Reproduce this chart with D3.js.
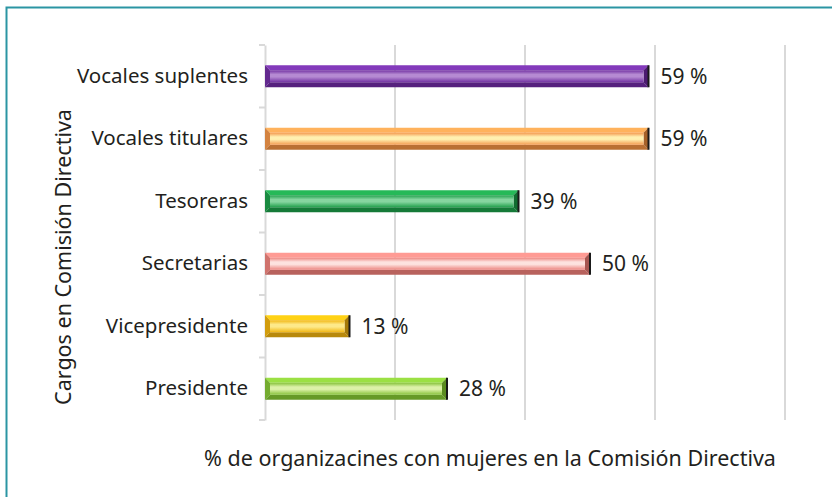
<!DOCTYPE html>
<html>
<head>
<meta charset="utf-8">
<script src="https://cdn.jsdelivr.net/npm/d3@7"></script>
<style>
  body { margin: 0; background: #fff; }
  svg { display: block; font-family: "Noto Sans", "Open Sans", sans-serif; }
</style>
</head>
<body>
<div id="chart"></div>
<script>
const categories = ["Vocales suplentes", "Vocales titulares", "Tesoreras", "Secretarias", "Vicepresidente", "Presidente"];
const values = [59, 59, 39, 50, 13, 28];
const gridTicks = [0, 20, 40, 60, 80];

// base, highlight, dark
const palette = [
  ["#7232a2", "#b58ad2", "#3f1361"],
  ["#f49a50", "#fff0b0", "#8a4e1c"],
  ["#21a04c", "#86d6a0", "#0b5a27"],
  ["#ec8680", "#fde3df", "#8e4540"],
  ["#f1b612", "#fde98a", "#8a6405"],
  ["#86c23a", "#dcf1a8", "#4c7a17"]
];

const width = 832, height = 497;
const svg = d3.select("#chart").append("svg")
  .attr("width", width)
  .attr("height", height);

// frame
svg.append("path")
  .attr("d", `M6.5,${height} V7.5 H${width}`)
  .attr("fill", "none")
  .attr("stroke", "#2b95a3")
  .attr("stroke-width", 2);

const x = d3.scaleLinear().domain([0, 80]).range([265, 785]);
const y = d3.scaleBand().domain(categories).range([45, 420]);
const barH = 22;

// gridlines
svg.append("g").selectAll("line")
  .data(gridTicks.slice(1))
  .join("line")
    .attr("x1", d => x(d)).attr("x2", d => x(d))
    .attr("y1", 45).attr("y2", 420)
    .attr("stroke", "#d9d9d9")
    .attr("stroke-width", 2);

// category axis
const yAxis = svg.append("g")
  .attr("transform", `translate(${x(0)},0)`)
  .call(d3.axisLeft(y).tickSize(0).tickPadding(17));
yAxis.select(".domain").attr("stroke", "#d9d9d9").attr("stroke-width", 2);
yAxis.selectAll("text")
  .attr("font-size", 20.5)
  .attr("fill", "#231f20")
  .attr("font-family", "'Noto Sans', sans-serif");

const bounds = categories.map(c => y(c)).concat([420]);
svg.append("g").selectAll("line")
  .data(bounds)
  .join("line")
    .attr("x1", x(0) - 6).attr("x2", x(0))
    .attr("y1", d => d).attr("y2", d => d)
    .attr("stroke", "#d9d9d9")
    .attr("stroke-width", 2);

// highlight gradients per bar
const defs = svg.append("defs");
palette.forEach((p, i) => {
  const g = defs.append("linearGradient")
    .attr("id", "g" + i)
    .attr("x1", 0).attr("y1", 0).attr("x2", 0).attr("y2", 1);
  g.append("stop").attr("offset", "0%").attr("stop-color", p[0]);
  g.append("stop").attr("offset", "35%").attr("stop-color", p[1]);
  g.append("stop").attr("offset", "55%").attr("stop-color", p[1]);
  g.append("stop").attr("offset", "100%").attr("stop-color", p[0]);
});

const bev = 5;
const bars = svg.append("g").selectAll("g")
  .data(categories.map((c, i) => ({ c, v: values[i], p: palette[i], i })))
  .join("g")
    .attr("transform", d => `translate(0,${y(d.c) + (y.bandwidth() - barH) / 2})`);

bars.each(function(d) {
  const g = d3.select(this);
  const x0 = x(0), x1 = x(d.v), h = barH;
  const shade = t => d3.interpolateRgb(d.p[0], d.p[2])(t);
  g.append("polygon")
    .attr("points", `${x0},0 ${x1},0 ${x1 - bev},${bev} ${x0 + bev},${bev}`)
    .attr("fill", d3.color(d.p[0]).brighter(0.4));
  g.append("polygon")
    .attr("points", `${x0},${h} ${x1},${h} ${x1 - bev},${h - bev} ${x0 + bev},${h - bev}`)
    .attr("fill", shade(0.55));
  g.append("polygon")
    .attr("points", `${x0},0 ${x0 + bev},${bev} ${x0 + bev},${h - bev} ${x0},${h}`)
    .attr("fill", shade(0.3));
  g.append("polygon")
    .attr("points", `${x1},0 ${x1 - bev},${bev} ${x1 - bev},${h - bev} ${x1},${h}`)
    .attr("fill", shade(0.75));
  g.append("rect")
    .attr("x", x0 + bev).attr("y", bev)
    .attr("width", x1 - x0 - 2 * bev).attr("height", h - 2 * bev)
    .attr("fill", `url(#g${d.i})`);
  g.append("line")
    .attr("x1", x1).attr("x2", x1)
    .attr("y1", 0).attr("y2", h)
    .attr("stroke", "#1a1a1a")
    .attr("stroke-width", 2);
  g.append("text")
    .attr("x", x1 + 12)
    .attr("y", h / 2)
    .attr("dy", "0.35em")
    .attr("font-size", 21)
    .attr("fill", "#231f20")
    .text(`${d.v} %`);
});

// axis titles
svg.append("text")
  .attr("transform", "rotate(-90)")
  .attr("x", -257)
  .attr("y", 71)
  .attr("text-anchor", "middle")
  .attr("font-size", 21.5)
  .attr("fill", "#231f20")
  .text("Cargos en Comisión Directiva");

svg.append("text")
  .attr("x", 490)
  .attr("y", 466)
  .attr("text-anchor", "middle")
  .attr("font-size", 21.5)
  .attr("fill", "#231f20")
  .text("% de organizacines con mujeres en la Comisión Directiva");
</script>
</body>
</html>
